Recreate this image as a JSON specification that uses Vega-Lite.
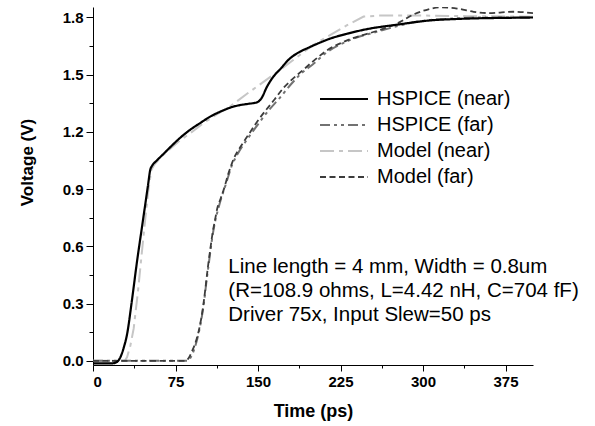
{
  "$schema": "https://vega.github.io/schema/vega-lite/v6.json",
  "width": 440,
  "height": 358,
  "autosize": {"type": "none"},
  "padding": {"left": 93, "top": 7, "right": 62, "bottom": 61},
  "background": "white",
  "config": {
    "font": "Liberation Sans",
    "view": {"stroke": null},
    "axis": {"domainColor": "#000", "tickColor": "#000", "labelColor": "#000", "titleColor": "#000", "grid": false}
  },
  "datasets": {
    "curves": [
      {"series": "HSPICE (near)", "t": 0, "v": -0.014},
      {"series": "HSPICE (near)", "t": 10, "v": -0.014},
      {"series": "HSPICE (near)", "t": 18, "v": -0.013},
      {"series": "HSPICE (near)", "t": 22, "v": -0.005},
      {"series": "HSPICE (near)", "t": 25, "v": 0.02},
      {"series": "HSPICE (near)", "t": 28, "v": 0.07},
      {"series": "HSPICE (near)", "t": 31, "v": 0.14},
      {"series": "HSPICE (near)", "t": 35, "v": 0.3},
      {"series": "HSPICE (near)", "t": 40, "v": 0.52},
      {"series": "HSPICE (near)", "t": 45, "v": 0.72},
      {"series": "HSPICE (near)", "t": 50, "v": 0.92},
      {"series": "HSPICE (near)", "t": 52, "v": 1.0},
      {"series": "HSPICE (near)", "t": 54, "v": 1.025},
      {"series": "HSPICE (near)", "t": 58, "v": 1.05},
      {"series": "HSPICE (near)", "t": 65, "v": 1.09},
      {"series": "HSPICE (near)", "t": 72, "v": 1.13},
      {"series": "HSPICE (near)", "t": 79, "v": 1.168},
      {"series": "HSPICE (near)", "t": 88, "v": 1.21},
      {"series": "HSPICE (near)", "t": 97, "v": 1.245},
      {"series": "HSPICE (near)", "t": 108, "v": 1.285},
      {"series": "HSPICE (near)", "t": 118, "v": 1.312},
      {"series": "HSPICE (near)", "t": 126, "v": 1.33},
      {"series": "HSPICE (near)", "t": 134, "v": 1.341},
      {"series": "HSPICE (near)", "t": 142, "v": 1.348},
      {"series": "HSPICE (near)", "t": 149, "v": 1.355},
      {"series": "HSPICE (near)", "t": 153, "v": 1.375},
      {"series": "HSPICE (near)", "t": 158, "v": 1.435},
      {"series": "HSPICE (near)", "t": 164, "v": 1.49},
      {"series": "HSPICE (near)", "t": 170, "v": 1.528},
      {"series": "HSPICE (near)", "t": 179, "v": 1.585},
      {"series": "HSPICE (near)", "t": 188, "v": 1.62},
      {"series": "HSPICE (near)", "t": 196, "v": 1.642},
      {"series": "HSPICE (near)", "t": 205, "v": 1.665},
      {"series": "HSPICE (near)", "t": 215, "v": 1.688},
      {"series": "HSPICE (near)", "t": 231, "v": 1.715},
      {"series": "HSPICE (near)", "t": 250, "v": 1.74},
      {"series": "HSPICE (near)", "t": 276, "v": 1.762},
      {"series": "HSPICE (near)", "t": 307, "v": 1.785},
      {"series": "HSPICE (near)", "t": 330, "v": 1.792},
      {"series": "HSPICE (near)", "t": 352, "v": 1.796},
      {"series": "HSPICE (near)", "t": 375, "v": 1.798},
      {"series": "HSPICE (near)", "t": 400, "v": 1.8},

      {"series": "HSPICE (far)", "t": 0, "v": 0.0},
      {"series": "HSPICE (far)", "t": 86, "v": 0.0},
      {"series": "HSPICE (far)", "t": 89, "v": 0.02},
      {"series": "HSPICE (far)", "t": 92, "v": 0.06},
      {"series": "HSPICE (far)", "t": 95, "v": 0.12},
      {"series": "HSPICE (far)", "t": 98, "v": 0.2},
      {"series": "HSPICE (far)", "t": 101, "v": 0.31},
      {"series": "HSPICE (far)", "t": 103, "v": 0.41},
      {"series": "HSPICE (far)", "t": 105.5, "v": 0.52},
      {"series": "HSPICE (far)", "t": 108, "v": 0.63},
      {"series": "HSPICE (far)", "t": 111, "v": 0.73},
      {"series": "HSPICE (far)", "t": 114, "v": 0.8},
      {"series": "HSPICE (far)", "t": 117, "v": 0.86},
      {"series": "HSPICE (far)", "t": 121, "v": 0.93},
      {"series": "HSPICE (far)", "t": 126, "v": 1.02},
      {"series": "HSPICE (far)", "t": 132, "v": 1.09},
      {"series": "HSPICE (far)", "t": 140, "v": 1.16},
      {"series": "HSPICE (far)", "t": 150, "v": 1.24},
      {"series": "HSPICE (far)", "t": 160, "v": 1.315},
      {"series": "HSPICE (far)", "t": 170, "v": 1.38},
      {"series": "HSPICE (far)", "t": 180, "v": 1.45},
      {"series": "HSPICE (far)", "t": 190, "v": 1.51},
      {"series": "HSPICE (far)", "t": 200, "v": 1.555},
      {"series": "HSPICE (far)", "t": 212, "v": 1.615},
      {"series": "HSPICE (far)", "t": 231, "v": 1.675},
      {"series": "HSPICE (far)", "t": 261, "v": 1.73},
      {"series": "HSPICE (far)", "t": 277, "v": 1.755},
      {"series": "HSPICE (far)", "t": 292, "v": 1.775},
      {"series": "HSPICE (far)", "t": 307, "v": 1.787},
      {"series": "HSPICE (far)", "t": 330, "v": 1.795},
      {"series": "HSPICE (far)", "t": 352, "v": 1.8},
      {"series": "HSPICE (far)", "t": 400, "v": 1.8},

      {"series": "Model (near)", "t": 0, "v": 0.0},
      {"series": "Model (near)", "t": 29, "v": 0.0},
      {"series": "Model (near)", "t": 31, "v": 0.02},
      {"series": "Model (near)", "t": 34, "v": 0.08},
      {"series": "Model (near)", "t": 37, "v": 0.17},
      {"series": "Model (near)", "t": 41, "v": 0.37},
      {"series": "Model (near)", "t": 46, "v": 0.66},
      {"series": "Model (near)", "t": 50, "v": 0.88},
      {"series": "Model (near)", "t": 53, "v": 1.0},
      {"series": "Model (near)", "t": 56, "v": 1.03},
      {"series": "Model (near)", "t": 62, "v": 1.07},
      {"series": "Model (near)", "t": 70, "v": 1.11},
      {"series": "Model (near)", "t": 79, "v": 1.155},
      {"series": "Model (near)", "t": 90, "v": 1.2},
      {"series": "Model (near)", "t": 100, "v": 1.245},
      {"series": "Model (near)", "t": 112, "v": 1.29},
      {"series": "Model (near)", "t": 125, "v": 1.335},
      {"series": "Model (near)", "t": 140, "v": 1.4},
      {"series": "Model (near)", "t": 170, "v": 1.525},
      {"series": "Model (near)", "t": 200, "v": 1.655},
      {"series": "Model (near)", "t": 231, "v": 1.76},
      {"series": "Model (near)", "t": 246, "v": 1.805},
      {"series": "Model (near)", "t": 260, "v": 1.81},
      {"series": "Model (near)", "t": 300, "v": 1.81},
      {"series": "Model (near)", "t": 340, "v": 1.807},
      {"series": "Model (near)", "t": 400, "v": 1.804},

      {"series": "Model (far)", "t": 0, "v": 0.0},
      {"series": "Model (far)", "t": 84, "v": 0.0},
      {"series": "Model (far)", "t": 87, "v": 0.015},
      {"series": "Model (far)", "t": 90, "v": 0.05},
      {"series": "Model (far)", "t": 94, "v": 0.11},
      {"series": "Model (far)", "t": 97, "v": 0.18},
      {"series": "Model (far)", "t": 100, "v": 0.28},
      {"series": "Model (far)", "t": 102, "v": 0.37},
      {"series": "Model (far)", "t": 104, "v": 0.47},
      {"series": "Model (far)", "t": 106.5, "v": 0.58},
      {"series": "Model (far)", "t": 109, "v": 0.68},
      {"series": "Model (far)", "t": 111, "v": 0.74},
      {"series": "Model (far)", "t": 113, "v": 0.8},
      {"series": "Model (far)", "t": 116, "v": 0.85},
      {"series": "Model (far)", "t": 119, "v": 0.9},
      {"series": "Model (far)", "t": 123, "v": 0.98},
      {"series": "Model (far)", "t": 128, "v": 1.06},
      {"series": "Model (far)", "t": 135, "v": 1.13},
      {"series": "Model (far)", "t": 143, "v": 1.2},
      {"series": "Model (far)", "t": 150, "v": 1.26},
      {"series": "Model (far)", "t": 158, "v": 1.32},
      {"series": "Model (far)", "t": 165, "v": 1.37},
      {"series": "Model (far)", "t": 173, "v": 1.43},
      {"series": "Model (far)", "t": 180, "v": 1.47},
      {"series": "Model (far)", "t": 190, "v": 1.52},
      {"series": "Model (far)", "t": 200, "v": 1.57},
      {"series": "Model (far)", "t": 212, "v": 1.625},
      {"series": "Model (far)", "t": 231, "v": 1.68},
      {"series": "Model (far)", "t": 261, "v": 1.735},
      {"series": "Model (far)", "t": 277, "v": 1.77},
      {"series": "Model (far)", "t": 291, "v": 1.815},
      {"series": "Model (far)", "t": 305, "v": 1.843},
      {"series": "Model (far)", "t": 316, "v": 1.853},
      {"series": "Model (far)", "t": 331, "v": 1.847},
      {"series": "Model (far)", "t": 346, "v": 1.83},
      {"series": "Model (far)", "t": 360, "v": 1.823},
      {"series": "Model (far)", "t": 370, "v": 1.826},
      {"series": "Model (far)", "t": 382, "v": 1.83},
      {"series": "Model (far)", "t": 400, "v": 1.823}
    ]
  },
  "resolve": {"axis": {"x": "independent", "y": "independent"}},
  "layer": [
    {
      "data": {"name": "curves"},
      "transform": [{"filter": "datum.series === 'Model (near)'"}],
      "mark": {"type": "line", "strokeWidth": 2, "interpolate": "linear", "clip": true},
      "encoding": {
        "x": {"field": "t", "type": "quantitative", "scale": {"domain": [0, 400], "nice": false, "zero": false},
          "axis": {"orient": "bottom", "values": [0, 75, 150, 225, 300, 375], "tickSize": 6, "labelFontSize": 15, "labelFontWeight": "bold", "labelPadding": 3,
            "title": "Time (ps)", "titleFontSize": 18, "titleFontWeight": "bold", "titleY": 46, "titleBaseline": "middle"}},
        "y": {"field": "v", "type": "quantitative", "scale": {"domain": [-0.022, 1.855], "nice": false, "zero": false},
          "axis": {"orient": "left", "values": [0, 0.3, 0.6, 0.9, 1.2, 1.5, 1.8], "format": ".1f", "tickSize": 7, "labelFontSize": 15, "labelFontWeight": "bold", "labelPadding": 3,
            "title": "Voltage (V)", "titleFontSize": 17, "titleFontWeight": "bold", "titleX": -66, "titleY": 155, "titleAngle": -90, "titleBaseline": "middle", "titleAlign": "center"}},
        "color": {
          "field": "series", "type": "nominal", "title": null,
          "scale": {"domain": ["HSPICE (near)", "HSPICE (far)", "Model (near)", "Model (far)"], "range": ["#000000", "#727272", "#c6c6c6", "#3c3c3c"]},
          "legend": {
            "orient": "none", "legendX": 241, "legendY": 82,
            "symbolType": "M-4.8,0H4.8", "symbolSize": 100, "symbolStrokeWidth": 2,
            "labelFontSize": 20, "labelColor": "#000", "labelOffset": 23,
            "rowPadding": 6, "padding": 0
          }
        },
        "strokeDash": {
          "field": "series", "type": "nominal", "title": null,
          "scale": {"domain": ["HSPICE (near)", "HSPICE (far)", "Model (near)", "Model (far)"], "range": [[1, 0], [10, 4, 3, 4, 3, 4], [14, 5, 4, 5], [6, 3.5]]}
        }
      }
    },
    {
      "data": {"name": "curves"},
      "transform": [{"filter": "datum.series === 'HSPICE (far)'"}],
      "mark": {"type": "line", "strokeWidth": 2, "interpolate": "monotone", "clip": true},
      "encoding": {
        "x": {"field": "t", "type": "quantitative", "scale": {"domain": [0, 400], "nice": false, "zero": false},
          "axis": {"orient": "bottom", "values": [37.5, 112.5, 187.5, 262.5, 337.5], "tickSize": 3, "labels": false, "domain": false, "title": null}},
        "y": {"field": "v", "type": "quantitative", "scale": {"domain": [-0.022, 1.855], "nice": false, "zero": false},
          "axis": {"orient": "left", "values": [0.15, 0.45, 0.75, 1.05, 1.35, 1.65], "tickSize": 4, "labels": false, "domain": false, "title": null}},
        "color": {"field": "series", "type": "nominal", "title": null},
        "strokeDash": {"field": "series", "type": "nominal", "title": null}
      }
    },
    {
      "data": {"name": "curves"},
      "transform": [{"filter": "datum.series === 'Model (far)'"}],
      "mark": {"type": "line", "strokeWidth": 1.8, "interpolate": "monotone", "clip": true},
      "encoding": {
        "x": {"field": "t", "type": "quantitative", "axis": null},
        "y": {"field": "v", "type": "quantitative", "axis": null},
        "color": {"field": "series", "type": "nominal", "title": null},
        "strokeDash": {"field": "series", "type": "nominal", "title": null}
      }
    },
    {
      "data": {"name": "curves"},
      "transform": [{"filter": "datum.series === 'HSPICE (near)'"}],
      "mark": {"type": "line", "strokeWidth": 2.2, "interpolate": "monotone", "clip": true},
      "encoding": {
        "x": {"field": "t", "type": "quantitative", "axis": null},
        "y": {"field": "v", "type": "quantitative", "axis": null},
        "color": {"field": "series", "type": "nominal", "title": null},
        "strokeDash": {"field": "series", "type": "nominal", "title": null}
      }
    },
    {
      "data": {"values": [{}]},
      "mark": {"type": "text", "align": "left", "baseline": "top", "fontSize": 20.5, "fontWeight": "normal", "lineHeight": 24, "fill": "#000",
        "text": ["Line length = 4 mm, Width = 0.8um", "(R=108.9 ohms, L=4.42 nH, C=704 fF)", "Driver 75x, Input Slew=50 ps"]},
      "encoding": {
        "x": {"datum": 123, "type": "quantitative", "axis": null},
        "y": {"datum": 0.545, "type": "quantitative", "axis": null}
      }
    }
  ]
}
